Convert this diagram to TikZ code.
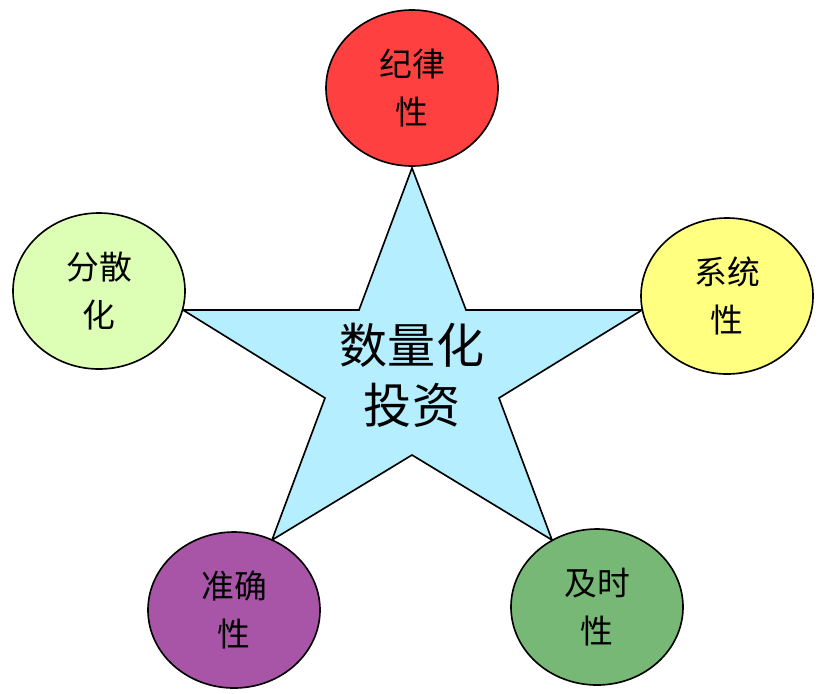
\documentclass[tikz,border=0pt]{standalone}
\usepackage{fontspec}
\newfontfamily\cjk{Noto Sans CJK SC}
\usetikzlibrary{shapes.geometric}
\definecolor{starblue}{HTML}{B5EEFF}
\definecolor{trred}{HTML}{FF4040}
\definecolor{tryellow}{HTML}{FFFF80}
\definecolor{trlime}{HTML}{DDFFB5}
\definecolor{trpurple}{HTML}{A855A8}
\definecolor{trgreen}{HTML}{77B877}
\tikzset{
  trait/.style={ellipse, draw, line width=1.4pt, minimum width=5.16cm,
    minimum height=4.68cm, inner sep=0pt, align=center,
    font=\cjk\fontsize{28}{41}\selectfont}
}
\begin{document}
\begin{tikzpicture}[x=0.03cm,y=-0.03cm]
  \useasboundingbox (0,0) rectangle (825,693);
  % the star
  \draw[fill=starblue, line width=1.4pt] (412,168) -- (466,310) -- (642,310)
    -- (499,398) -- (552,540) -- (412,455) -- (272,540) -- (325,398)
    -- (183,310) -- (359,310) -- cycle;
  \node[align=center, font=\cjk\fontsize{41}{51}\selectfont] (core) at (412,375) {数量化\\投资};
  % the five traits
  \node[trait, fill=trred] (jilv) at (412,88) {纪律\\性};
  \node[trait, fill=tryellow] (xitong) at (727,296) {系统\\性};
  \node[trait, fill=trgreen] (jishi) at (597,607) {及时\\性};
  \node[trait, fill=trpurple] (zhunque) at (234,610) {准确\\性};
  \node[trait, fill=trlime] (fensan) at (99,291) {分散\\化};
\end{tikzpicture}
\end{document}
